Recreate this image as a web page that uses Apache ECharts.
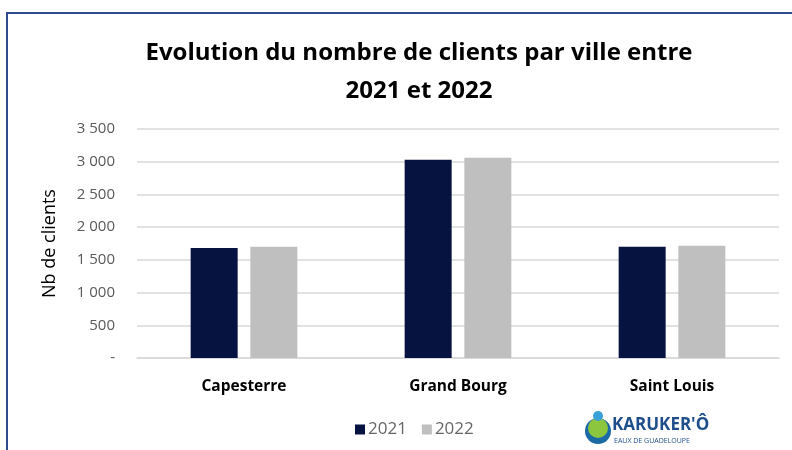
<!DOCTYPE html>
<html>
<head>
<meta charset="utf-8">
<script src="https://cdn.jsdelivr.net/npm/echarts@6/dist/echarts.min.js"></script>
<style>
  html, body { margin: 0; padding: 0; background: #fff; }
  #chart { width: 792px; height: 450px; }
</style>
</head>
<body>
<div id="chart"></div>
<script>
var cities = ['Capesterre', 'Grand Bourg', 'Saint Louis'];
var years = ['2021', '2022'];
var clients2021 = [1680, 3030, 1700];
var clients2022 = [1700, 3060, 1715];

var navy = '#06123f';
var grey = '#bfbfbf';
var gridGrey = '#d9d9d9';
var labelGrey = '#595959';

function fmt(v) {
  if (v === 0) return '-';
  return String(v).replace(/\B(?=(\d{3})+(?!\d))/g, ' ');
}

var chart = echarts.init(document.getElementById('chart'), null, { renderer: 'canvas' });
chart.setOption({
  animation: false,
  backgroundColor: '#fff',
  textStyle: { fontFamily: 'Open Sans' },
  title: {
    text: 'Evolution du nombre de clients par ville entre\n2021 et 2022',
    left: 414,
    textAlign: 'center',
    top: 29,
    textStyle: { fontFamily: 'Open Sans', fontSize: 24, fontWeight: 'bold', color: '#000', lineHeight: 38 }
  },
  legend: {
    data: years,
    left: 350,
    top: 416,
    itemWidth: 10,
    itemHeight: 10,
    itemGap: 15,
    icon: 'rect',
    textStyle: { color: '#666666', fontSize: 17, padding: [0, 0, 0, -2] }
  },
  grid: { left: 137, right: 13, top: 129, bottom: 92 },
  xAxis: {
    type: 'category',
    data: cities,
    axisLine: { lineStyle: { color: gridGrey, width: 1.5 } },
    axisTick: { show: false },
    axisLabel: { color: '#000', fontSize: 15.5, fontWeight: 'bold', margin: 21 }
  },
  yAxis: {
    type: 'value',
    min: 0,
    max: 3500,
    interval: 500,
    name: 'Nb de clients',
    nameLocation: 'middle',
    nameGap: 78,
    nameTextStyle: { color: '#000', fontSize: 18 },
    axisLine: { show: false },
    axisTick: { show: false },
    axisLabel: { color: labelGrey, fontSize: 15, margin: 22, formatter: fmt },
    splitLine: { lineStyle: { color: gridGrey, width: 1.5 } }
  },
  series: [
    {
      name: years[0],
      type: 'bar',
      data: clients2021,
      barWidth: 47,
      barGap: '27%',
      itemStyle: { color: navy }
    },
    {
      name: years[1],
      type: 'bar',
      data: clients2022,
      barWidth: 47,
      itemStyle: { color: grey }
    }
  ],
  graphic: [
    {
      type: 'rect',
      shape: { x: 7, y: 13, width: 820, height: 470 },
      style: { fill: 'none', stroke: '#2e4a8a', lineWidth: 2 }
    },
    {
      type: 'group',
      left: 585,
      top: 411,
      children: [
        { type: 'circle', shape: { cx: 15, cy: 22, r: 13 }, style: { fill: '#1b6aa5' } },
        { type: 'circle', shape: { cx: 15, cy: 19, r: 10 }, style: { fill: '#8cc63f' } },
        { type: 'circle', shape: { cx: 15, cy: 7, r: 5 }, style: { fill: '#3aa0d8' } },
        { type: 'text', x: 29, y: 8, style: { text: "KARUKER'Ô", fill: '#1f4e8c', font: 'bold 17px "Open Sans"' } },
        { type: 'text', x: 31, y: 28, style: { text: 'EAUX DE GUADELOUPE', fill: '#1f4e8c', font: '7px "Open Sans"' } }
      ]
    }
  ]
});
</script>
</body>
</html>
